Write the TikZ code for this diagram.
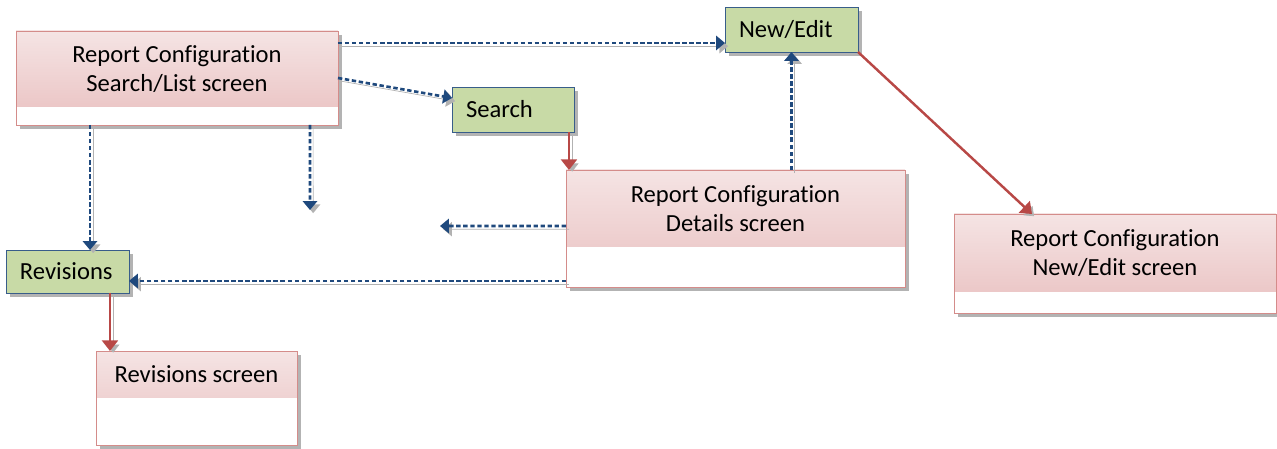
\documentclass[tikz,border=0pt]{standalone}
\usepackage{fontspec}
\setmainfont{Carlito}[Ligatures=NoCommon]
\usetikzlibrary{arrows.meta, positioning, calc, shadows}
\definecolor{screenline}{RGB}{212,140,138}
\definecolor{screentop}{RGB}{245,228,228}
\definecolor{screenbot}{RGB}{233,192,192}
\definecolor{actionfill}{RGB}{200,218,166}
\definecolor{actionline}{RGB}{56,93,138}
\definecolor{flowblue}{RGB}{31,73,125}
\definecolor{linkred}{RGB}{184,72,70}

\begin{document}
\begin{tikzpicture}[x=0.02cm, y=-0.02cm,
    screen/.style={rectangle, draw=screenline, fill=white, anchor=north west, inner sep=0pt, outer sep=0pt,
        drop shadow={shadow xshift=2.5pt, shadow yshift=-2.5pt, opacity=0.6},
        path picture={\shade[top color=screentop, bottom color=screenbot] (path picture bounding box.north west) rectangle ([yshift=#1]path picture bounding box.south east);}},
    caption/.style={align=center, inner sep=0pt, font=\fontsize{14}{16.5}\selectfont},
    action/.style={rectangle, draw=actionline, fill=actionfill, anchor=north west, minimum height=0.9cm, inner xsep=0.28cm, inner ysep=0pt, outer sep=0pt,
        text width=#1, align=left, font=\fontsize{14}{16.5}\selectfont,
        drop shadow={shadow xshift=2.5pt, shadow yshift=-2.5pt, opacity=0.6}},
    flow/.style={draw=flowblue, line width=1.5pt, dash pattern=on 2.5pt off 1.5pt, -{Triangle[length=5pt, width=8pt]},
        preaction={draw=gray!60, transform canvas={shift={(1.8pt,-1.8pt)}}}},
    link/.style={draw=linkred, line width=1.4pt, -{Triangle[length=6pt, width=9pt]},
        preaction={draw=gray!60, transform canvas={shift={(1.8pt,-1.8pt)}}}}
]
\useasboundingbox (0,0) rectangle (1277,449);

% Screens
\node[screen=0.36cm, minimum width=6.44cm, minimum height=1.88cm] (slist) at (16,31) {};
\node[caption] (slistcap) at ([yshift=0.18cm]slist.center) {Report Configuration\\Search/List screen};

\node[screen=0.8cm, minimum width=6.78cm, minimum height=2.34cm] (details) at (566,170) {};
\node[caption] (detailscap) at ([yshift=0.4cm]details.center) {Report Configuration\\Details screen};

\node[screen=0.42cm, minimum width=6.44cm, minimum height=1.98cm] (nescreen) at (954,214) {};
\node[caption] (nescreencap) at ([yshift=0.21cm]nescreen.center) {Report Configuration\\New/Edit screen};

\node[screen=0.94cm, minimum width=4.02cm, minimum height=1.88cm] (revscreen) at (96,351) {};
\node[caption] (revscreencap) at ([yshift=0.47cm]revscreen.center) {Revisions screen};

% Actions
\node[action=1.88cm] (search) at (452,87) {Search};
\node[action=2.10cm] (newedit) at (725,7) {New/Edit};
\node[action=1.90cm, minimum height=0.86cm] (revisions) at (6,250) {Revisions};

% Open ends
\coordinate (open1) at (310,210);
\coordinate (open2) at (440,226);

% Helper points on the box edges
\coordinate (s1) at ([yshift=-0.24cm]slist.north east);
\coordinate (s2) at ([yshift=-0.94cm]slist.north east);
\coordinate (s3) at ([xshift=1.48cm]slist.south west);
\coordinate (s4) at ([xshift=5.88cm]slist.south west);
\coordinate (d1) at ([yshift=-1.12cm]details.north west);
\coordinate (d2) at ([yshift=-2.22cm]details.north west);
\coordinate (f1) at ([xshift=-0.1cm]search.south east);
\coordinate (r1) at ([xshift=-0.38cm]revisions.south east);

% Dotted flows
\draw[flow] (s1) -- (s1 -| newedit.west);
\draw[flow] (s2) -- ([yshift=0.23cm]search.west);
\draw[flow] (s3) -- (s3 |- revisions.north);
\draw[flow] (s4) -- (open1);
\draw[flow] (details.north -| newedit.south) -- (newedit.south);
\draw[flow] (d1) -- (open2);
\draw[flow] (d2) -- (d2 -| revisions.east);

% Solid links
\draw[link] (f1) -- (f1 |- details.north);
\draw[link] (newedit.south east) -- ([xshift=1.56cm]nescreen.north west);
\draw[link] (r1) -- (r1 |- revscreen.north);

\end{tikzpicture}
\end{document}
